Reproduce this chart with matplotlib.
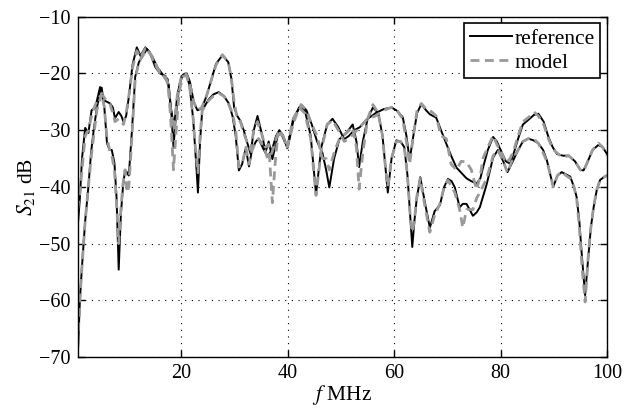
import matplotlib
matplotlib.use("Agg")
import matplotlib.pyplot as plt

# Curve A (reference / model)
xa = [0.5, 0.9, 1.3, 1.9, 2.5, 3.1, 3.8, 4.7, 5.3, 6.0, 6.6, 7.1, 7.5, 8.2, 8.7, 9.1, 9.6, 10.1, 10.8,
      11.6, 12.3, 13.2, 14.0, 15.1, 16.0, 17.0, 17.6, 18.1, 18.5, 19.0, 19.6, 20.3, 21.0, 21.6, 22.3,
      23.0, 23.8, 24.7, 25.5, 26.5, 27.7, 28.8, 29.4, 29.9, 30.5, 31.1, 31.7, 32.3, 33.0, 33.6, 34.3,
      35.2, 35.8, 36.4, 37.1, 37.6, 38.1, 38.7, 39.4, 40.0, 41.0, 42.1, 43.2, 44.3, 45.3, 46.3, 47.4,
      48.4, 49.5, 50.6, 51.5, 52.5, 53.5, 55.0, 56.5, 58.0, 59.5, 60.4, 61.6, 62.3, 62.9, 63.6, 64.3,
      65.1, 66.0, 66.7, 67.9, 68.8, 69.8, 70.7, 71.7, 72.6, 73.6, 74.5, 75.5, 76.2, 76.7, 77.6, 78.6,
      79.3, 80.2, 81.0, 81.8, 82.5, 83.3, 84.2, 85.2, 86.3, 87.1, 88.1, 89.0, 89.8, 90.6, 91.7, 92.8,
      94.0, 95.0, 95.6, 96.4, 97.3, 98.4, 99.2, 100.0]
ref_a = [-47, -42, -35, -29.6, -30.5, -26.5, -26, -22.4, -24.7, -25, -25.3, -26, -27.9, -26.8, -27.5, -28.5, -27.5, -24.2, -18.5,
         -15.4, -16.9, -15.4, -16.2, -18.9, -20, -20.5, -22, -27, -33, -27, -22, -20.2, -20, -21.5, -25,
         -26.5, -26.2, -24, -21.5, -18.3, -16.8, -18, -21, -26, -27.5, -28.4, -30, -32, -34.2, -30, -27.5,
         -31, -33.9, -32, -35.1, -33, -31, -30.5, -32, -33, -28.5, -26, -26.5, -31, -41.3, -33, -29,
         -28, -29.5, -31.6, -31, -30, -29.5, -28, -27, -26.3, -26, -26.5, -27.7, -31, -35.3, -31, -27,
         -25.4, -26.5, -27.2, -27.8, -30, -32.4, -34.5, -36.6, -37.5, -38.5, -39, -39.4, -38.5, -36.6, -33.5, -31.2,
         -32, -33.9, -35.5, -35.9, -34, -31.5, -29, -28.2, -27.3, -27.1, -28.5, -31.2, -33, -34.2, -34.5, -34.5,
         -35.5, -37, -37.1, -35.5, -33.5, -32.6, -33, -34.2]
mod_a = [-44, -41, -37, -31, -30, -27.5, -25.5, -24, -24, -25, -25.5, -27, -28.5, -28, -28.5, -29, -27, -24, -19,
         -16, -17.2, -15.6, -16.3, -18.5, -20, -20.5, -22.5, -30, -37, -30, -23, -20.5, -20.3, -22, -25,
         -26.5, -26, -24, -21.5, -18.5, -16.7, -18, -21, -25, -28, -28.5, -30.5, -32, -33.5, -30, -28.5,
         -31, -33, -32.5, -42.8, -36, -31, -30.5, -32, -32.5, -29, -26, -27, -31.5, -41.5, -33.5, -29,
         -28.3, -30, -32, -31.5, -30.5, -29.5, -28, -27.5, -26.5, -26, -26.3, -28, -32, -36, -31, -26.5,
         -25.3, -26.3, -26.5, -27.5, -31, -31.5, -36, -37, -35.5, -35.6, -37, -40.5, -38, -35, -33, -31,
         -32.5, -34, -35.8, -35, -33.5, -31, -28.5, -27.8, -26.8, -27.5, -29, -31.5, -33.3, -34, -34.8, -34.5,
         -35.5, -37, -37.3, -35.5, -33.5, -32.3, -33, -34.5]

# Curve B (reference / model)
xb = [0.5, 0.9, 1.3, 1.9, 2.5, 3.0, 3.5, 4.1, 4.7, 5.0, 5.5, 6.0, 6.5, 6.9, 7.4, 7.8, 8.2, 8.6, 9.0, 9.4,
      9.8, 10.1, 10.7, 11.3, 12.0, 12.6, 13.5, 14.5, 15.5, 16.5, 17.4, 18.0, 18.6, 19.2, 20.0, 20.8, 21.5,
      22.2, 22.7, 23.1, 23.5, 23.9, 25.1, 26.0, 27.0, 28.0, 28.9, 29.6, 30.2, 30.8, 31.4, 32.1, 32.7, 33.3,
      34.0, 34.5, 35.5, 36.2, 37.0, 37.8, 38.4, 39.1, 39.9, 41.0, 42.5, 43.5, 44.5, 45.5, 46.5, 47.2, 47.8,
      48.7, 49.7, 51.0, 52.2, 52.9, 53.4, 54.1, 55.0, 56.0, 57.0, 57.8, 58.3, 58.8, 59.5, 60.4, 61.2, 61.9,
      62.5, 63.0, 63.4, 63.8, 64.2, 64.9, 65.7, 66.7, 67.6, 68.6, 69.4, 70.1, 70.8, 71.4, 72.3, 72.9, 73.6,
      74.8, 75.5, 76.1, 77.4, 78.6, 79.5, 80.5, 81.3, 82.3, 83.3, 84.2, 85.2, 86.2, 87.1, 88.0, 88.7, 89.4,
      89.9, 90.7, 91.5, 92.3, 93.1, 93.8, 94.3, 94.8, 95.3, 95.9, 96.5, 97.0, 97.5, 98.1, 98.7, 99.4, 100.0]
ref_b = [-70, -60, -54, -46, -40, -34, -30, -26, -23.5, -22.5, -26, -32.3, -33.5, -33.5, -35.8, -42, -54.6, -45, -40, -37,
         -37.5, -38, -30, -20.6, -18, -17.1, -15.7, -17, -19, -20.2, -21, -26, -29.5, -24, -20.5, -20, -22,
         -28, -35, -41, -32, -26.5, -24.6, -23.7, -23.3, -24, -25.3, -27.5, -31, -37.1, -36, -33.2, -36.4, -33.3,
         -32, -31.5, -33.5, -34.6, -33.5, -31, -30, -31, -33.2, -28, -25.5, -26.5, -29, -32, -34, -37, -40.1,
         -35, -31.6, -30.5, -29, -32, -36.5, -32, -28, -26, -27, -31, -36, -41, -35, -31.8, -32, -33,
         -38, -45, -50.6, -46, -42.4, -38.3, -42.4, -47.2, -44.3, -43.2, -40, -38.6, -39, -40.1, -43.6, -43, -43,
         -45.1, -44.5, -43.6, -39.5, -34.8, -33.5, -35.5, -37.4, -35.5, -33.5, -32, -31.5, -31.8, -32.3, -33.5, -35.3, -38,
         -40, -38, -37.4, -37.8, -38.2, -40, -41.8, -46, -52.3, -59.1, -52.3, -47, -43.6, -40.5, -38.8, -38.3, -38]
mod_b = [-68, -60, -54, -46, -40, -35, -31, -26.5, -24.5, -23.5, -26, -31.5, -33.5, -34.5, -37, -43, -50, -44, -39.5, -37,
         -41, -40, -31, -21, -18, -17, -15.8, -17, -19, -20.3, -21.5, -27, -30, -24, -20.5, -20, -22,
         -28, -34, -37.5, -31, -26.5, -24.8, -24, -23.5, -24, -25.5, -27, -30, -36.5, -36, -33, -36, -33.5,
         -32, -31.5, -33, -35, -34, -31.5, -30, -31, -33, -28, -25.5, -26.5, -29, -31, -35, -35, -37,
         -34, -31.5, -30.5, -29.5, -33, -40.4, -34, -28, -25.5, -27, -31, -36, -40, -35, -32, -32, -33,
         -38, -45, -48, -46, -42, -38.5, -43, -48, -45, -43, -40, -38.8, -40, -41, -44, -47.2, -44,
         -44, -42, -41, -38.5, -34.5, -33.5, -35.5, -37.5, -35, -33.5, -32, -31.5, -31.5, -32.3, -34, -35.5, -38,
         -40, -38, -37.3, -38, -38.5, -40, -42, -47, -54, -60.3, -52, -47, -43.5, -40.5, -38.8, -38.3, -38]

x_ticks = [20, 40, 60, 80, 100]
y_ticks = [-70, -60, -50, -40, -30, -20, -10]
legend_labels = ["reference", "model"]

plt.rcParams['font.family'] = ['Liberation Serif', 'DejaVu Serif']
plt.rcParams['mathtext.fontset'] = 'stix'

fig = plt.figure(figsize=(6.27, 4.08), dpi=100)
ax = fig.add_axes([0.124, 0.125, 0.844, 0.834])

ref_kw = dict(color='black', lw=1.4, solid_joinstyle='round')
mod_kw = dict(color='#999999', lw=2.0, dashes=(3.2, 2.0))

ax.plot(xa, ref_a, label=legend_labels[0], **ref_kw)
ax.plot(xb, ref_b, **ref_kw)
ax.plot(xa, mod_a, label=legend_labels[1], **mod_kw)
ax.plot(xb, mod_b, **mod_kw)

ax.set_xlim(0.5, 100)
ax.set_ylim(-70, -10)
ax.set_xticks(x_ticks)
ax.set_yticks(y_ticks)
ax.set_yticklabels([f"\u2212{abs(v)}" for v in y_ticks])
ax.tick_params(direction='in', top=True, right=True, labelsize=14.5, length=5, width=1, pad=5)
ax.grid(True, color='black', linestyle=(0, (1, 5)), linewidth=0.8)
for s in ax.spines.values():
    s.set_linewidth(1.0)

ax.set_xlabel(r"$f$ MHz", fontsize=15.5, labelpad=0)
ax.set_ylabel(r"$S_{21}$ dB", fontsize=15.5, labelpad=2)

leg = ax.legend(loc='upper right', fontsize=15.5, fancybox=False, framealpha=1,
                edgecolor='black', borderaxespad=0.3, handlelength=1.95,
                handletextpad=0.15, borderpad=0.25, labelspacing=0.2)
leg.get_frame().set_linewidth(1.2)

fig.savefig("out.png", dpi=100)
